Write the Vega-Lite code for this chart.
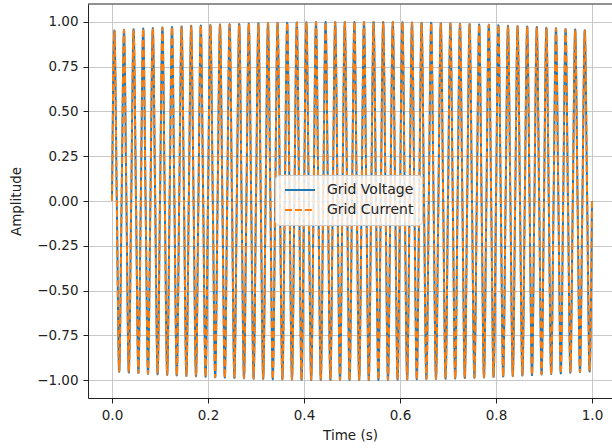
{
  "$schema": "https://vega.github.io/schema/vega-lite/v6.json",
  "width": 524,
  "height": 394,
  "autosize": "none",
  "padding": {"left": 88, "top": 4, "right": 0, "bottom": 50},
  "background": "white",
  "config": {
    "font": "DejaVu Sans",
    "view": {"stroke": null},
    "axis": {
      "domainColor": "#222222",
      "domainWidth": 1,
      "tickColor": "#222222",
      "tickWidth": 1,
      "tickSize": 5,
      "labelFont": "DejaVu Sans",
      "labelFontSize": 13.5,
      "labelColor": "#222222",
      "labelPadding": 5,
      "titleFont": "DejaVu Sans",
      "titleFontSize": 13.5,
      "titleFontWeight": "normal",
      "titleColor": "#222222",
      "gridColor": "#c8c8c8",
      "gridWidth": 1
    },
    "legend": {
      "labelFont": "DejaVu Sans",
      "labelFontSize": 14,
      "labelColor": "#222222"
    }
  },
  "datasets": {
    "wave": [
      {"t":0,"voltage":0,"current":0},{"t":0.005,"voltage":0.952,"current":0.952},{"t":0.01,"voltage":0,"current":0},{"t":0.015,"voltage":-0.954,"current":-0.954},
      {"t":0.02,"voltage":0,"current":0},{"t":0.025,"voltage":0.956,"current":0.956},{"t":0.03,"voltage":0,"current":0},{"t":0.035,"voltage":-0.958,"current":-0.958},
      {"t":0.04,"voltage":0,"current":0},{"t":0.045,"voltage":0.959,"current":0.959},{"t":0.05,"voltage":0,"current":0},{"t":0.055,"voltage":-0.961,"current":-0.961},
      {"t":0.06,"voltage":0,"current":0},{"t":0.065,"voltage":0.963,"current":0.963},{"t":0.07,"voltage":0,"current":0},{"t":0.075,"voltage":-0.965,"current":-0.965},
      {"t":0.08,"voltage":0,"current":0},{"t":0.085,"voltage":0.966,"current":0.966},{"t":0.09,"voltage":0,"current":0},{"t":0.095,"voltage":-0.968,"current":-0.968},
      {"t":0.1,"voltage":0,"current":0},{"t":0.105,"voltage":0.969,"current":0.969},{"t":0.11,"voltage":0,"current":0},{"t":0.115,"voltage":-0.971,"current":-0.971},
      {"t":0.12,"voltage":0,"current":0},{"t":0.125,"voltage":0.972,"current":0.972},{"t":0.13,"voltage":0,"current":0},{"t":0.135,"voltage":-0.974,"current":-0.974},
      {"t":0.14,"voltage":0,"current":0},{"t":0.145,"voltage":0.975,"current":0.975},{"t":0.15,"voltage":0,"current":0},{"t":0.155,"voltage":-0.977,"current":-0.977},
      {"t":0.16,"voltage":0,"current":0},{"t":0.165,"voltage":0.978,"current":0.978},{"t":0.17,"voltage":0,"current":0},{"t":0.175,"voltage":-0.979,"current":-0.979},
      {"t":0.18,"voltage":0,"current":0},{"t":0.185,"voltage":0.98,"current":0.98},{"t":0.19,"voltage":0,"current":0},{"t":0.195,"voltage":-0.982,"current":-0.982},
      {"t":0.2,"voltage":0,"current":0},{"t":0.205,"voltage":0.983,"current":0.983},{"t":0.21,"voltage":0,"current":0},{"t":0.215,"voltage":-0.984,"current":-0.984},
      {"t":0.22,"voltage":0,"current":0},{"t":0.225,"voltage":0.985,"current":0.985},{"t":0.23,"voltage":0,"current":0},{"t":0.235,"voltage":-0.986,"current":-0.986},
      {"t":0.24,"voltage":0,"current":0},{"t":0.245,"voltage":0.987,"current":0.987},{"t":0.25,"voltage":0,"current":0},{"t":0.255,"voltage":-0.988,"current":-0.988},
      {"t":0.26,"voltage":0,"current":0},{"t":0.265,"voltage":0.989,"current":0.989},{"t":0.27,"voltage":0,"current":0},{"t":0.275,"voltage":-0.99,"current":-0.99},
      {"t":0.28,"voltage":0,"current":0},{"t":0.285,"voltage":0.991,"current":0.991},{"t":0.29,"voltage":0,"current":0},{"t":0.295,"voltage":-0.992,"current":-0.992},
      {"t":0.3,"voltage":0,"current":0},{"t":0.305,"voltage":0.993,"current":0.993},{"t":0.31,"voltage":0,"current":0},{"t":0.315,"voltage":-0.993,"current":-0.993},
      {"t":0.32,"voltage":0,"current":0},{"t":0.325,"voltage":0.994,"current":0.994},{"t":0.33,"voltage":0,"current":0},{"t":0.335,"voltage":-0.995,"current":-0.995},
      {"t":0.34,"voltage":0,"current":0},{"t":0.345,"voltage":0.995,"current":0.995},{"t":0.35,"voltage":0,"current":0},{"t":0.355,"voltage":-0.996,"current":-0.996},
      {"t":0.36,"voltage":0,"current":0},{"t":0.365,"voltage":0.996,"current":0.996},{"t":0.37,"voltage":0,"current":0},{"t":0.375,"voltage":-0.997,"current":-0.997},
      {"t":0.38,"voltage":0,"current":0},{"t":0.385,"voltage":0.997,"current":0.997},{"t":0.39,"voltage":0,"current":0},{"t":0.395,"voltage":-0.998,"current":-0.998},
      {"t":0.4,"voltage":0,"current":0},{"t":0.405,"voltage":0.998,"current":0.998},{"t":0.41,"voltage":0,"current":0},{"t":0.415,"voltage":-0.999,"current":-0.999},
      {"t":0.42,"voltage":0,"current":0},{"t":0.425,"voltage":0.999,"current":0.999},{"t":0.43,"voltage":0,"current":0},{"t":0.435,"voltage":-0.999,"current":-0.999},
      {"t":0.44,"voltage":0,"current":0},{"t":0.445,"voltage":0.999,"current":0.999},{"t":0.45,"voltage":0,"current":0},{"t":0.455,"voltage":-1,"current":-1},
      {"t":0.46,"voltage":0,"current":0},{"t":0.465,"voltage":1,"current":1},{"t":0.47,"voltage":0,"current":0},{"t":0.475,"voltage":-1,"current":-1},
      {"t":0.48,"voltage":0,"current":0},{"t":0.485,"voltage":1,"current":1},{"t":0.49,"voltage":0,"current":0},{"t":0.495,"voltage":-1,"current":-1},
      {"t":0.5,"voltage":0,"current":0},{"t":0.505,"voltage":1,"current":1},{"t":0.51,"voltage":0,"current":0},{"t":0.515,"voltage":-1,"current":-1},
      {"t":0.52,"voltage":0,"current":0},{"t":0.525,"voltage":1,"current":1},{"t":0.53,"voltage":0,"current":0},{"t":0.535,"voltage":-1,"current":-1},
      {"t":0.54,"voltage":0,"current":0},{"t":0.545,"voltage":1,"current":1},{"t":0.55,"voltage":0,"current":0},{"t":0.555,"voltage":-0.999,"current":-0.999},
      {"t":0.56,"voltage":0,"current":0},{"t":0.565,"voltage":0.999,"current":0.999},{"t":0.57,"voltage":0,"current":0},{"t":0.575,"voltage":-0.999,"current":-0.999},
      {"t":0.58,"voltage":0,"current":0},{"t":0.585,"voltage":0.999,"current":0.999},{"t":0.59,"voltage":0,"current":0},{"t":0.595,"voltage":-0.998,"current":-0.998},
      {"t":0.6,"voltage":0,"current":0},{"t":0.605,"voltage":0.998,"current":0.998},{"t":0.61,"voltage":0,"current":0},{"t":0.615,"voltage":-0.997,"current":-0.997},
      {"t":0.62,"voltage":0,"current":0},{"t":0.625,"voltage":0.997,"current":0.997},{"t":0.63,"voltage":0,"current":0},{"t":0.635,"voltage":-0.996,"current":-0.996},
      {"t":0.64,"voltage":0,"current":0},{"t":0.645,"voltage":0.996,"current":0.996},{"t":0.65,"voltage":0,"current":0},{"t":0.655,"voltage":-0.995,"current":-0.995},
      {"t":0.66,"voltage":0,"current":0},{"t":0.665,"voltage":0.995,"current":0.995},{"t":0.67,"voltage":0,"current":0},{"t":0.675,"voltage":-0.994,"current":-0.994},
      {"t":0.68,"voltage":0,"current":0},{"t":0.685,"voltage":0.993,"current":0.993},{"t":0.69,"voltage":0,"current":0},{"t":0.695,"voltage":-0.993,"current":-0.993},
      {"t":0.7,"voltage":0,"current":0},{"t":0.705,"voltage":0.992,"current":0.992},{"t":0.71,"voltage":0,"current":0},{"t":0.715,"voltage":-0.991,"current":-0.991},
      {"t":0.72,"voltage":0,"current":0},{"t":0.725,"voltage":0.99,"current":0.99},{"t":0.73,"voltage":0,"current":0},{"t":0.735,"voltage":-0.989,"current":-0.989},
      {"t":0.74,"voltage":0,"current":0},{"t":0.745,"voltage":0.988,"current":0.988},{"t":0.75,"voltage":0,"current":0},{"t":0.755,"voltage":-0.987,"current":-0.987},
      {"t":0.76,"voltage":0,"current":0},{"t":0.765,"voltage":0.986,"current":0.986},{"t":0.77,"voltage":0,"current":0},{"t":0.775,"voltage":-0.985,"current":-0.985},
      {"t":0.78,"voltage":0,"current":0},{"t":0.785,"voltage":0.984,"current":0.984},{"t":0.79,"voltage":0,"current":0},{"t":0.795,"voltage":-0.983,"current":-0.983},
      {"t":0.8,"voltage":0,"current":0},{"t":0.805,"voltage":0.982,"current":0.982},{"t":0.81,"voltage":0,"current":0},{"t":0.815,"voltage":-0.98,"current":-0.98},
      {"t":0.82,"voltage":0,"current":0},{"t":0.825,"voltage":0.979,"current":0.979},{"t":0.83,"voltage":0,"current":0},{"t":0.835,"voltage":-0.978,"current":-0.978},
      {"t":0.84,"voltage":0,"current":0},{"t":0.845,"voltage":0.977,"current":0.977},{"t":0.85,"voltage":0,"current":0},{"t":0.855,"voltage":-0.975,"current":-0.975},
      {"t":0.86,"voltage":0,"current":0},{"t":0.865,"voltage":0.974,"current":0.974},{"t":0.87,"voltage":0,"current":0},{"t":0.875,"voltage":-0.972,"current":-0.972},
      {"t":0.88,"voltage":0,"current":0},{"t":0.885,"voltage":0.971,"current":0.971},{"t":0.89,"voltage":0,"current":0},{"t":0.895,"voltage":-0.969,"current":-0.969},
      {"t":0.9,"voltage":0,"current":0},{"t":0.905,"voltage":0.968,"current":0.968},{"t":0.91,"voltage":0,"current":0},{"t":0.915,"voltage":-0.966,"current":-0.966},
      {"t":0.92,"voltage":0,"current":0},{"t":0.925,"voltage":0.965,"current":0.965},{"t":0.93,"voltage":0,"current":0},{"t":0.935,"voltage":-0.963,"current":-0.963},
      {"t":0.94,"voltage":0,"current":0},{"t":0.945,"voltage":0.961,"current":0.961},{"t":0.95,"voltage":0,"current":0},{"t":0.955,"voltage":-0.959,"current":-0.959},
      {"t":0.96,"voltage":0,"current":0},{"t":0.965,"voltage":0.958,"current":0.958},{"t":0.97,"voltage":0,"current":0},{"t":0.975,"voltage":-0.956,"current":-0.956},
      {"t":0.98,"voltage":0,"current":0},{"t":0.985,"voltage":0.954,"current":0.954},{"t":0.99,"voltage":0,"current":0},{"t":0.995,"voltage":-0.952,"current":-0.952},
      {"t":1.0,"voltage":0,"current":0}
    ],
    "frame": [{"edge": 1.1}]
  },
  "layer": [
    {
      "data": {"name": "wave"},
      "mark": {"type": "line", "strokeWidth": 2, "interpolate": "monotone"},
      "encoding": {
        "x": {
          "field": "t",
          "type": "quantitative",
          "scale": {"domain": [-0.05, 1.0417], "nice": false, "zero": false},
          "axis": {
            "title": "Time (s)",
            "values": [0, 0.2, 0.4, 0.6, 0.8, 1.0],
            "format": ".1f",
            "titlePadding": 7
          }
        },
        "y": {
          "field": "voltage",
          "type": "quantitative",
          "scale": {"domain": [-1.1, 1.1], "nice": false, "zero": false},
          "axis": {
            "title": "Amplitude",
            "values": [-1, -0.75, -0.5, -0.25, 0, 0.25, 0.5, 0.75, 1],
            "format": ".2f",
            "titlePadding": 13
          }
        },
        "color": {
          "datum": "Grid Voltage",
          "scale": {"domain": ["Grid Voltage", "Grid Current"], "range": ["#1f77b4", "#ff7f0e"]},
          "legend": {
            "title": null,
            "orient": "none",
            "legendX": 187,
            "legendY": 171,
            "symbolType": "M-1,0H5",
            "symbolSize": 100,
            "symbolStrokeWidth": 2,
            "labelOffset": 30,
            "padding": 8,
            "rowPadding": 6,
            "fillColor": "rgba(255,255,255,0.8)",
            "strokeColor": "#cccccc",
            "cornerRadius": 4
          }
        },
        "strokeDash": {
          "datum": "Grid Voltage",
          "scale": {"domain": ["Grid Voltage", "Grid Current"], "range": [[1, 0], [7, 3]]}
        }
      }
    },
    {
      "data": {"name": "wave"},
      "mark": {"type": "line", "strokeWidth": 2, "interpolate": "monotone"},
      "encoding": {
        "x": {"field": "t", "type": "quantitative"},
        "y": {"field": "current", "type": "quantitative"},
        "color": {"datum": "Grid Current"},
        "strokeDash": {"datum": "Grid Current"}
      }
    },
    {
      "data": {"name": "frame"},
      "mark": {"type": "rule", "color": "#222222", "strokeWidth": 1},
      "encoding": {"y": {"field": "edge", "type": "quantitative"}}
    }
  ]
}
